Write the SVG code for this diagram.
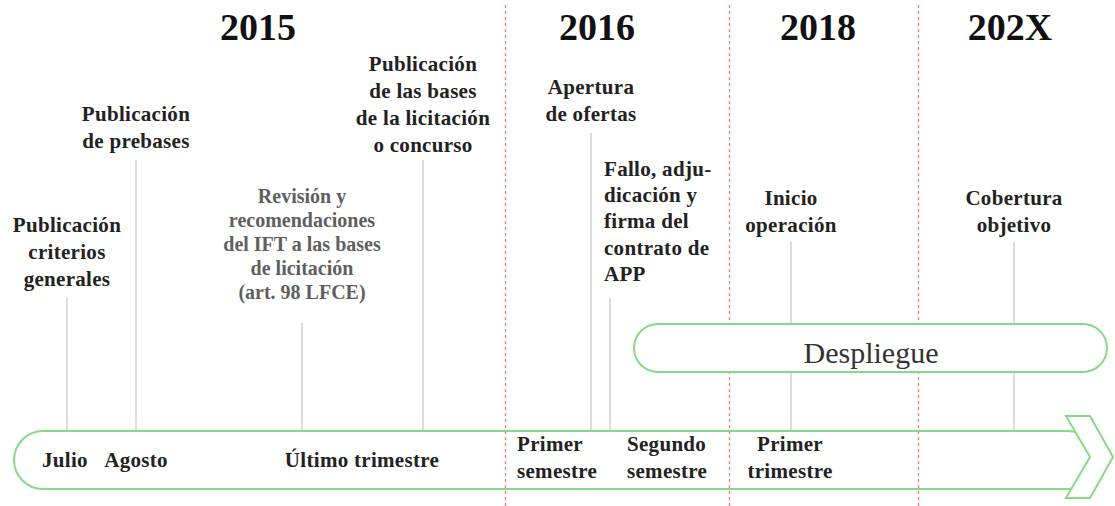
<svg xmlns="http://www.w3.org/2000/svg" width="1115" height="506" viewBox="0 0 1115 506">
<style>
  .year{font-family:"Liberation Serif",serif;font-weight:bold;font-size:38px;fill:#111;text-anchor:middle}
  .lbl{font-family:"Liberation Serif",serif;font-weight:bold;font-size:21px;letter-spacing:0.3px;fill:#222;text-anchor:middle}
  .left{text-anchor:start}
  .gray{font-family:"Liberation Serif",serif;font-weight:bold;font-size:20px;fill:#5f5f5f;text-anchor:middle}
  .big{font-family:"Liberation Serif",serif;font-size:30px;fill:#333;text-anchor:middle}
  .conn{stroke:#d4d4d4;stroke-width:1.6;fill:none}
  .div{stroke:#ef7b7b;stroke-width:1.3;stroke-dasharray:3,3;fill:none}
  .green{fill:#fff;stroke:#88d888;stroke-width:2}
</style>
<rect width="1115" height="506" fill="#fff"/>

<g id="dividers">
  <line class="div" x1="505.5" y1="5" x2="505.5" y2="506"/>
  <line class="div" x1="729.5" y1="5" x2="729.5" y2="506"/>
  <line class="div" x1="918.5" y1="5" x2="918.5" y2="506"/>
</g>

<g id="years">
  <text class="year" x="258" y="40">2015</text>
  <text class="year" x="597" y="40">2016</text>
  <text class="year" x="818" y="40">2018</text>
  <text class="year" x="1010" y="40">202X</text>
</g>

<g id="connectors">
  <line class="conn" x1="67" y1="298" x2="67" y2="430"/>
  <line class="conn" x1="136" y1="160" x2="136" y2="430"/>
  <line class="conn" x1="302" y1="323" x2="302" y2="430"/>
  <line class="conn" x1="423" y1="160" x2="423" y2="430"/>
  <line class="conn" x1="591" y1="133" x2="591" y2="430"/>
  <line class="conn" x1="610" y1="298" x2="610" y2="430"/>
  <line class="conn" x1="791" y1="242" x2="791" y2="430"/>
  <line class="conn" x1="1014" y1="242" x2="1014" y2="430"/>
</g>

<g id="timeline-bar">
  <rect x="14" y="431" width="1082" height="58" rx="29" fill="none" stroke="#88d888" stroke-width="2"/>
  <polygon class="green" points="1066,416 1090,416 1113,457 1090,498 1066,498 1090,457"/>
</g>

<g id="despliegue">
  <rect class="green" x="634" y="324" width="473" height="48" rx="24"/>
  <text class="big" x="871" y="363">Despliegue</text>
</g>

<g id="node-criterios">
  <text class="lbl" x="67" y="232">Publicación</text>
  <text class="lbl" x="67" y="259">criterios</text>
  <text class="lbl" x="67" y="286">generales</text>
</g>
<g id="node-prebases">
  <text class="lbl" x="136" y="121">Publicación</text>
  <text class="lbl" x="136" y="148">de prebases</text>
</g>
<g id="node-revision">
  <text class="gray" x="302" y="203">Revisión y</text>
  <text class="gray" x="302" y="227">recomendaciones</text>
  <text class="gray" x="302" y="251">del IFT a las bases</text>
  <text class="gray" x="302" y="275">de licitación</text>
  <text class="gray" x="302" y="299">(art. 98 LFCE)</text>
</g>
<g id="node-bases">
  <text class="lbl" x="423" y="71">Publicación</text>
  <text class="lbl" x="423" y="98">de las bases</text>
  <text class="lbl" x="423" y="125">de la licitación</text>
  <text class="lbl" x="423" y="152">o concurso</text>
</g>
<g id="node-apertura">
  <text class="lbl" x="591" y="94">Apertura</text>
  <text class="lbl" x="591" y="121">de ofertas</text>
</g>
<g id="node-fallo">
  <text class="lbl left" x="604" y="176">Fallo, adju-</text>
  <text class="lbl left" x="604" y="202">dicación y</text>
  <text class="lbl left" x="604" y="228">firma del</text>
  <text class="lbl left" x="604" y="255">contrato de</text>
  <text class="lbl left" x="604" y="281">APP</text>
</g>
<g id="node-inicio">
  <text class="lbl" x="791" y="205">Inicio</text>
  <text class="lbl" x="791" y="232">operación</text>
</g>
<g id="node-cobertura">
  <text class="lbl" x="1014" y="205">Cobertura</text>
  <text class="lbl" x="1014" y="232">objetivo</text>
</g>

<g id="bar-labels">
  <text class="lbl" x="65" y="467">Julio</text>
  <text class="lbl" x="136" y="467">Agosto</text>
  <text class="lbl" x="362" y="467">Último trimestre</text>
  <text class="lbl left" x="517" y="451">Primer</text>
  <text class="lbl left" x="517" y="478">semestre</text>
  <text class="lbl left" x="627" y="451">Segundo</text>
  <text class="lbl left" x="627" y="478">semestre</text>
  <text class="lbl" x="790" y="451">Primer</text>
  <text class="lbl" x="790" y="478">trimestre</text>
</g>
</svg>
